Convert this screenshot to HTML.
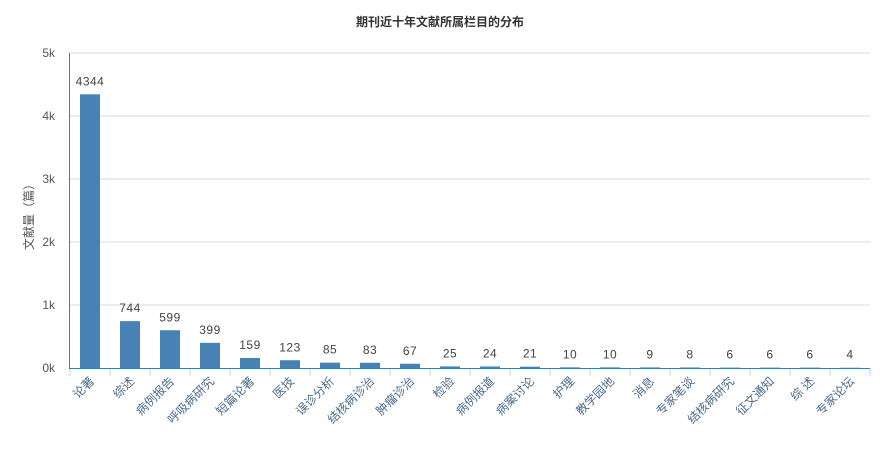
<!DOCTYPE html>
<html><head><meta charset="utf-8"><style>
body{margin:0;background:#fff;}
svg text{font-family:"Liberation Sans","Noto Sans CJK SC",sans-serif;}
</style></head><body>
<svg id="chart" width="880" height="450" xmlns="http://www.w3.org/2000/svg">
<text x="440" y="26" text-anchor="middle" font-size="12" font-weight="bold" fill="#333">期刊近十年文献所属栏目的分布</text>
<text transform="translate(33,214) rotate(-90)" text-anchor="middle" font-size="12" fill="#555">文献量（篇）</text>
<g id="grid"></g><g id="bars"></g><g id="axes"></g>
</svg>
<script>
const categories=["论著","综述","病例报告","呼吸病研究","短篇论著","医技","误诊分析","结核病诊治","肿瘤诊治","检验","病例报道","病案讨论","护理","教学园地","消息","专家笔谈","结核病研究","征文通知","综 述","专家论坛"];
const values=[4344,744,599,399,159,123,85,83,67,25,24,21,10,10,9,8,6,6,6,4];
const yTicks=[0,1000,2000,3000,4000,5000];
const yTickLabels=["0k","1k","2k","3k","4k","5k"];
const NS="http://www.w3.org/2000/svg";
const x0=70,x1=870,yBase=368,yTop=53,yMax=5000;
const band=(x1-x0)/categories.length;
function y(v){return yBase-(v/yMax)*(yBase-yTop);}
function xc(i){return x0+band*i+band/2;}
function mk(tag,attrs,parent,text){const e=document.createElementNS(NS,tag);for(const k in attrs)e.setAttribute(k,attrs[k]);if(text!==undefined)e.textContent=text;parent.appendChild(e);return e;}
const grid=document.getElementById('grid'),bars=document.getElementById('bars'),axes=document.getElementById('axes');
yTicks.forEach((t,i)=>{
  if(t>0){const l=mk('line',{x1:x0,x2:x1,y1:y(t),y2:y(t),stroke:'#d8d8d8','stroke-width':1},grid);
  
  }
  const tx=mk('text',{x:55,y:y(t)+4,'text-anchor':'end','font-size':12,fill:'#555'},axes,yTickLabels[i]);
  
  
});
categories.forEach((c,i)=>{
  const r=mk('rect',{x:xc(i)-10,y:y(values[i]),width:20,height:yBase-y(values[i]),fill:'#4682b4'},bars);
  
  
  const v=mk('text',{x:xc(i),y:y(values[i])-9,'text-anchor':'middle','font-size':12,fill:'#444','letter-spacing':'0.5'},bars,String(values[i]));
  
  
  const lab=mk('text',{transform:`translate(${xc(i)+5},${yBase+14}) rotate(-45)`,'text-anchor':'end','font-size':12,fill:'#4a6a8c'},axes,c);
  
  
});
for(let i=0;i<=categories.length;i++){
  const t=mk('line',{x1:x0+band*i,x2:x0+band*i,y1:yBase,y2:yBase+8,stroke:'#ccd6eb','stroke-width':1},axes);
  
  
}
const ya=mk('line',{x1:x0-0.5,x2:x0-0.5,y1:yTop,y2:yBase,stroke:'#1a8bc0','stroke-width':1},axes);


const xa=mk('line',{x1:x0-1,x2:x1,y1:yBase+0.5,y2:yBase+0.5,stroke:'#1a8bc0','stroke-width':1},axes);


</script>
</body></html>
